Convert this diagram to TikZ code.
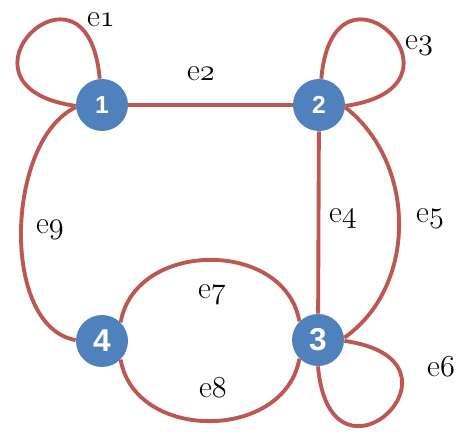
\documentclass[tikz,border=0pt]{standalone}
\usepackage{fontspec}
\newfontfamily\numfont{Liberation Sans}
\usepackage{tikz}
\definecolor{vblue}{RGB}{79,129,189}
\definecolor{ered}{RGB}{188,88,82}
\newcommand{\osnum}[1]{{\usefont{OML}{cmm}{m}{it}#1}}

\begin{document}
\begin{tikzpicture}[>=latex,
        vertex/.style={circle,fill=vblue,minimum size=1.04cm,inner sep=0pt,text=white,font=\numfont\bfseries\fontsize{14}{14}\selectfont},
        bigvertex/.style={vertex,font=\numfont\bfseries\fontsize{18}{18}\selectfont},
        edge/.style={draw=ered,line width=2.2pt},
        elabel/.style={font=\fontsize{18}{20}\selectfont}
    ]
        \useasboundingbox (0,0) rectangle (9.48,8.72);
        \node (n1) at (2.04,6.62)[vertex]{1};
        \node (n2) at (6.38,6.62)[vertex]{2};
        \node (n3) at (6.36,1.92)[bigvertex]{3};
        \node (n4) at (2.04,1.90)[bigvertex]{4};
        \begin{scope}[edge]
            \draw (n1.95) to[out=95,in=172,distance=2.8cm] (n1.182);
            \draw (n1) -- (n2);
            \draw (n2.85) to[out=85,in=8,distance=2.8cm] (n2.-2);
            \draw (n2) -- (n3);
            \draw (n2.-5) to[out=-38,in=35] (n3.5);
            \draw (n3.-2) to[out=-8,in=-85,distance=2.8cm] (n3.-90);
            \draw (n4.45) to[out=80,in=100,looseness=1.2] (n3.135);
            \draw (n4.-45) to[out=-80,in=-100,looseness=1.2] (n3.-135);
            \draw (n1.185) to[out=205,in=170,looseness=0.85] (n4.178);
        \end{scope}
        \node (l1) at (2.02,8.32)[elabel]{e\osnum{1}};
        \node (l2) at (4.02,7.24)[elabel]{e\osnum{2}};
        \node (l3) at (8.38,7.82)[elabel]{e\osnum{3}};
        \node (l4) at (6.86,4.36)[elabel]{e\osnum{4}};
        \node (l5) at (8.60,4.36)[elabel]{e\osnum{5}};
        \node (l6) at (8.82,1.38)[elabel]{e\osnum{6}};
        \node (l7) at (4.24,2.84)[elabel]{e\osnum{7}};
        \node (l8) at (4.26,0.96)[elabel]{e\osnum{8}};
        \node (l9) at (1.00,4.14)[elabel]{e\osnum{9}};
    \end{tikzpicture}
\end{document}
